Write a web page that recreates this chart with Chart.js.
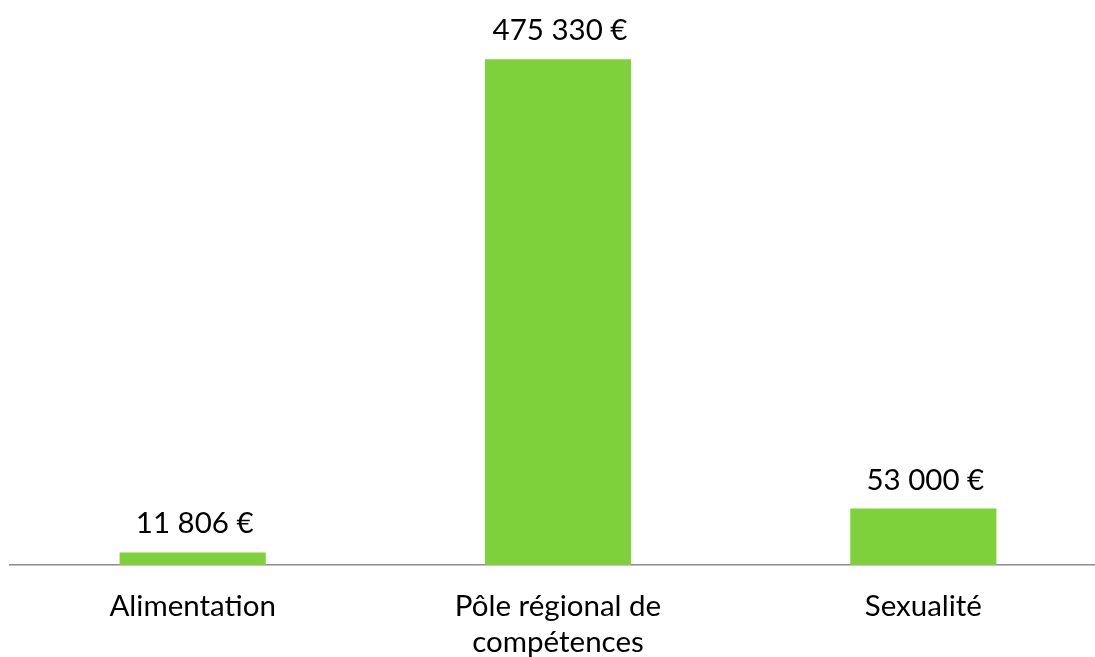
<!DOCTYPE html>
<html>
<head>
<meta charset="utf-8">
<script src="https://cdn.jsdelivr.net/npm/chart.js@4"></script>
<style>
    html, body { margin: 0; padding: 0; background: #fff; overflow: hidden; }
    #boite { width: 1106px; height: 657px; }
</style>
</head>
<body>
<div id="boite"><canvas id="myChart"></canvas></div>
<script>
// categories et montants (en euros)
const categories = [["Alimentation"], ["Pôle régional de", "compétences"], ["Sexualité"]];
const montants = [11806, 475330, 53000];

function formatEuro(v) {
    // separateur de milliers = espace simple
    return String(v).replace(/\B(?=(\d{3})+(?!\d))/g, " ") + " €";
}

// etiquettes au-dessus des barres
const etiquettes = {
    id: 'etiquettes',
    afterDatasetsDraw(chart) {
        const ctx = chart.ctx;
        const meta = chart.getDatasetMeta(0);
        ctx.save();
        ctx.font = '29.5px Lato';
        ctx.fillStyle = '#000';
        ctx.textAlign = 'center';
        ctx.textBaseline = 'alphabetic';
        meta.data.forEach(function (barre, i) {
            ctx.fillText(formatEuro(montants[i]), barre.x + 2, barre.y - 19);
        });
        ctx.restore();
    }
};

const dados = {
    labels: categories,
    datasets: [{
        data: montants,
        backgroundColor: '#7fd13b',
        borderWidth: 0,
        categoryPercentage: 1,
        barPercentage: 0.4
    }]
};

const config = {
    type: 'bar',
    data: dados,
    options: {
        responsive: true,
        maintainAspectRatio: false,
        animation: false,
        layout: { padding: { left: 10, right: 0, top: 0, bottom: 0 } },
        plugins: { legend: { display: false }, tooltip: { enabled: false } },
        scales: {
            x: {
                grid: { display: false, drawTicks: false },
                border: { display: true, color: '#8c8c8c', width: 1.5 },
                ticks: { color: '#000', font: { family: 'Lato', size: 29.5, lineHeight: 1.2 }, padding: 24, maxRotation: 0 },
                afterFit(scale) { scale.height = 92; }
            },
            y: {
                display: false,
                min: 0,
                max: 531000
            }
        }
    },
    plugins: [etiquettes]
};

const ctx = document.getElementById('myChart');
myChart = new Chart(ctx, config);
</script>
</body>
</html>
